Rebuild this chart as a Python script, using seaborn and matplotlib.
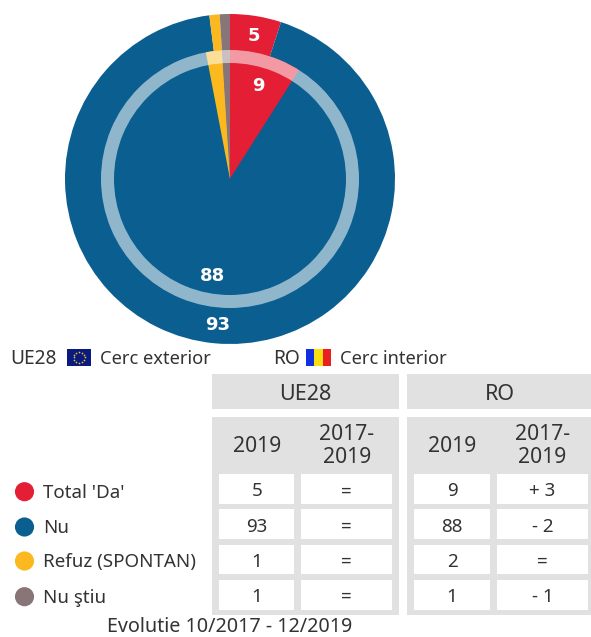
import numpy as np
import pandas as pd
import matplotlib
matplotlib.use("Agg")
import matplotlib.pyplot as plt
from matplotlib.patches import Rectangle
import seaborn as sns

categories = ["Total 'Da'", "Nu", "Refuz (SPONTAN)", "Nu ştiu"]
ue28_2019 = [5, 93, 1, 1]
ro_2019 = [9, 88, 2, 1]
ue28_change = ["=", "=", "=", "="]
ro_change = ["+ 3", "- 2", "=", "- 1"]
palette = ["#e41f35", "#0b5e90", "#fbb81f", "#877577"]
year_labels = ["2019", "2017-\n2019"]

sns.set_theme(style="white")
FONT = "Noto Sans"
plt.rcParams["font.family"] = [FONT, "DejaVu Sans"]
TXT = "#333333"
W, H = 591, 637
fig = plt.figure(figsize=(W / 100, H / 100), dpi=100)

# --- pies
ax_pie = fig.add_axes([0, 0, 1, 1])
center = (230, H - 179)

def pie_layer(values, radius, label_r, show):
    it = iter(values)
    def fmt(_):
        v = next(it)
        return str(v) if v in show else ""
    _, _, autotexts = ax_pie.pie(values, colors=palette, startangle=90, counterclock=False,
                                 radius=radius, center=center, autopct=fmt,
                                 pctdistance=label_r / radius,
                                 wedgeprops=dict(linewidth=0))
    for t in autotexts:
        t.set(color="white", fontsize=13, fontweight="bold", family="DejaVu Sans", zorder=10)
        t.set_x(t.get_position()[0] + 1)
        t.set_y(t.get_position()[1] - 1)

pie_layer(ue28_2019, 165, 146, {5, 93})
pie_layer(ro_2019, 129, 98, {9, 88})
ring, _ = ax_pie.pie([1], radius=129, center=center, colors=["white"],
                     wedgeprops=dict(width=13, alpha=0.55, linewidth=0))
ax_pie.set_aspect("auto")
ax_pie.set_xlim(0, W)
ax_pie.set_ylim(0, H)
ax_pie.axis("off")

# --- overlay in pixel space
ax = fig.add_axes([0, 0, 1, 1])
ax.set_xlim(0, W)
ax.set_ylim(H, 0)
ax.axis("off")
ax.patch.set_alpha(0)

GREY = "#e1e1e1"
def rect(x0, y0, x1, y1, color):
    ax.add_patch(Rectangle((x0, y0), x1 - x0, y1 - y0, facecolor=color, edgecolor="none"))

def label(x, y, s, size=13.2, ha="center", ls=1.0):
    ax.text(x, y, s, fontsize=size, ha=ha, va="center", color=TXT, linespacing=ls)

# top legend
label(10, 359, "UE28", ha="left", size=13.8)
rect(67, 348.5, 91, 366, "#0b1a80")
ang = np.arange(12) * np.pi / 6
sns.scatterplot(x=79 + 5.5 * np.cos(ang), y=357.3 + 5.5 * np.sin(ang), ax=ax, s=1.5,
                color="#e8c820", linewidth=0, legend=False)
label(100, 359, "Cerc exterior", ha="left")
label(273, 359, "RO", ha="left", size=13.8)
for x0, c in zip([306, 314.3, 322.6], ["#1030e0", "#f8e010", "#e82020"]):
    rect(x0, 348.5, x0 + 8.4, 366, c)
label(340, 359, "Cerc interior", ha="left")

# table
rect(211.5, 374, 399, 408.7, GREY)
rect(407, 374, 591, 408.7, GREY)
rect(211.5, 417, 399, 615, GREY)
rect(407, 417, 591, 615, GREY)
label(305, 394, "UE28", size=15.5)
label(500, 394, "RO", size=15.5)

rows = [(474, 504), (509.3, 539.3), (544.7, 574.3), (579.7, 609.7)]
cols = [(219, 294.4), (301, 392.4), (414, 490), (497, 588)]
col_vals = [ue28_2019, ue28_change, ro_2019, ro_change]
for (x0, x1), vals, yl in zip(cols, col_vals, year_labels * 2):
    label((x0 + x1) / 2, 446, yl, size=15.2, ls=1.1)
    for (y0, y1), v in zip(rows, vals):
        rect(x0, y0, x1, y1, "white")
        label((x0 + x1) / 2, (y0 + y1) / 2 + 2.5, str(v), size=13.5)

# category legend
df = pd.DataFrame({"cat": categories, "x": 24.5, "y": [491.7, 527, 561, 596.7]})
sns.scatterplot(data=df, x="x", y="y", hue="cat", palette=palette, s=190, linewidth=0,
                legend=False, ax=ax)
for y, c in zip(df["y"], categories):
    label(43, y + 1, c, ha="left", size=13.5)

label(229.5, 627.5, "Evolutie 10/2017 - 12/2019", size=14.2)
ax.set_xlim(0, W)
ax.set_ylim(H, 0)
ax.set_xlabel("")
ax.set_ylabel("")
fig.savefig("out.png", dpi=100, facecolor="white")
